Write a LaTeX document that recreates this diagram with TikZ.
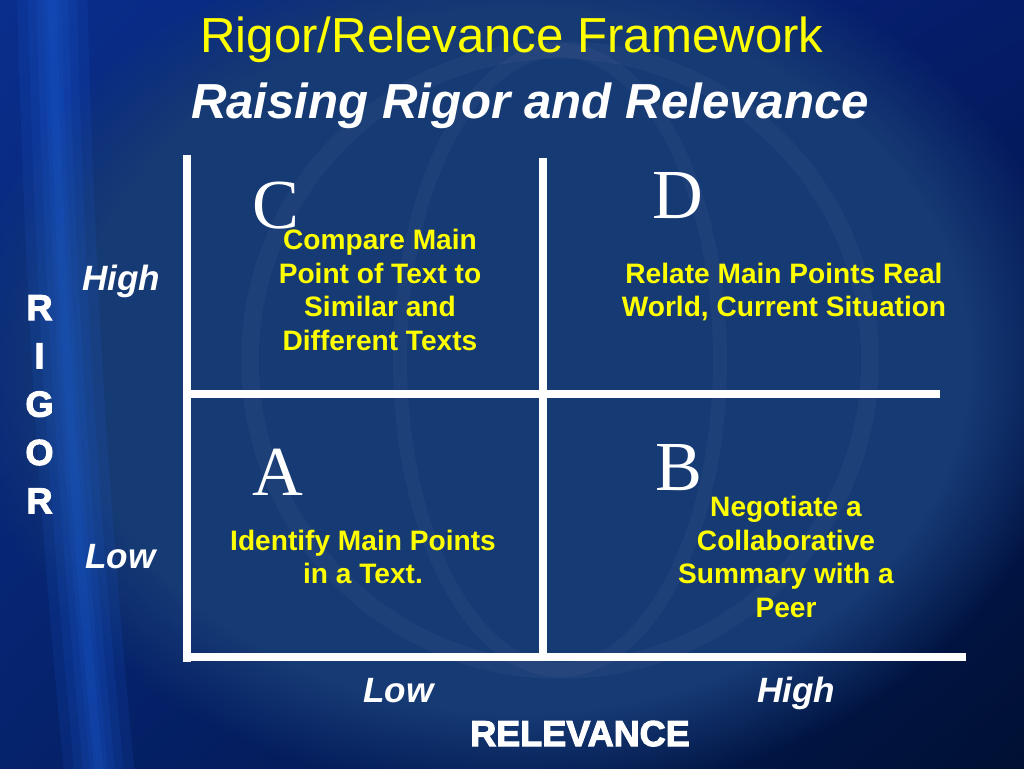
\documentclass[tikz,border=0pt]{standalone}
\usepackage{fontspec}
\setmainfont{Liberation Sans}
\newfontfamily\letterfont{Liberation Serif}
\newfontfamily\heavyfont[FakeBold=3]{Liberation Sans Bold}
\usetikzlibrary{fadings,shadings}
\definecolor{bgtl}{RGB}{10,46,140}
\definecolor{bgtr}{RGB}{5,28,104}
\definecolor{bgbl}{RGB}{5,34,108}
\definecolor{bgbr}{RGB}{0,16,52}
\definecolor{bgmid}{RGB}{22,58,116}
\definecolor{streak}{RGB}{30,100,225}
\definecolor{txtyellow}{RGB}{255,255,0}

\begin{document}
\begin{tikzpicture}[x=0.02cm, y=-0.02cm,
	bar/.style = {draw=white, line width=4.6pt},
	quad/.style = {txtyellow, font=\fontsize{16}{19}\selectfont\bfseries, align=center},
	letter/.style = {white, font=\letterfont\fontsize{40}{40}\selectfont, anchor=base west, inner sep=0pt},
	level/.style = {white, font=\fontsize{20}{24}\selectfont\bfseries\itshape, anchor=base west, inner sep=0pt},
	axis/.style = {white, font=\heavyfont\fontsize{20.5}{24}\selectfont, anchor=base, inner sep=0pt}
	]

	%Background
	\useasboundingbox (0,0) rectangle (1024,768);
	\shade[upper left=bgtl, upper right=bgtr, lower left=bgbl, lower right=bgbr] (0,0) rectangle (1024,768);
	\fill[bgmid, path fading=circle with fuzzy edge 20 percent] (520,360) ellipse (560 and 440);
	\foreach \w in {40,28,18,10,5}
		\draw[streak, opacity=0.13, line width=\w pt] (52,-10) .. controls (60,300) and (75,520) .. (100,780);
	\draw[white, opacity=0.035, line width=10pt] (560,360) circle (310);
	\draw[white, opacity=0.03, line width=8pt] (560,360) ellipse (160 and 310);

	%Nodes
	\node[anchor=base, txtyellow, font=\fontsize{28}{34}\selectfont] (title) at (512,52) {Rigor/Relevance Framework};
	\node[anchor=base, white, font=\fontsize{28}{34}\selectfont\bfseries\itshape] (sub) at (530,118) {Raising Rigor and Relevance};

	\node[letter]	(C)	at	(252,228)	{C};
	\node[letter]	(D)	at	(652,218)	{D};
	\node[letter]	(A)	at	(252,495)	{A};
	\node[letter]	(B)	at	(655,490)	{B};

	\node[quad]	(ctext)	at	(380,290)	{Compare Main\\Point of Text to\\Similar and\\Different Texts};
	\node[quad]	(dtext)	at	(784,292)	{Relate Main Points Real\\World, Current Situation};
	\node[quad]	(atext)	at	(363,557)	{Identify Main Points\\in a Text.};
	\node[quad]	(btext)	at	(786,557)	{Negotiate a\\Collaborative\\Summary with a\\Peer};

	\foreach \l [count=\i from 0] in {R,I,G,O,R}
		\node[axis]	(rig\i)	at	(39.5,320+48.3*\i)	{\l};

	\node[level]	(rhigh)	at	(82,290)	{High};
	\node[level]	(rlow)	at	(85,568)	{Low};
	\node[level]	(vlow)	at	(363,702)	{Low};
	\node[level]	(vhigh)	at	(757,702)	{High};
	\node[axis]	(rel)	at	(580,746)	{RELEVANCE};

	%Lines
	\coordinate (lt) at (187,155);
	\coordinate (lb) at (187,662);
	\coordinate (mt) at (543,158);
	\coordinate (mb) at (543,655);
	\coordinate (hl) at (183,394);
	\coordinate (hr) at (940,394);
	\coordinate (bl) at (183,657);
	\coordinate (br) at (966,657);

	\draw[bar]	(lt)	--	(lb);
	\draw[bar]	(mt)	--	(mb);
	\draw[bar]	(hl)	--	(hr);
	\draw[bar]	(bl)	--	(br);
\end{tikzpicture}
\end{document}
